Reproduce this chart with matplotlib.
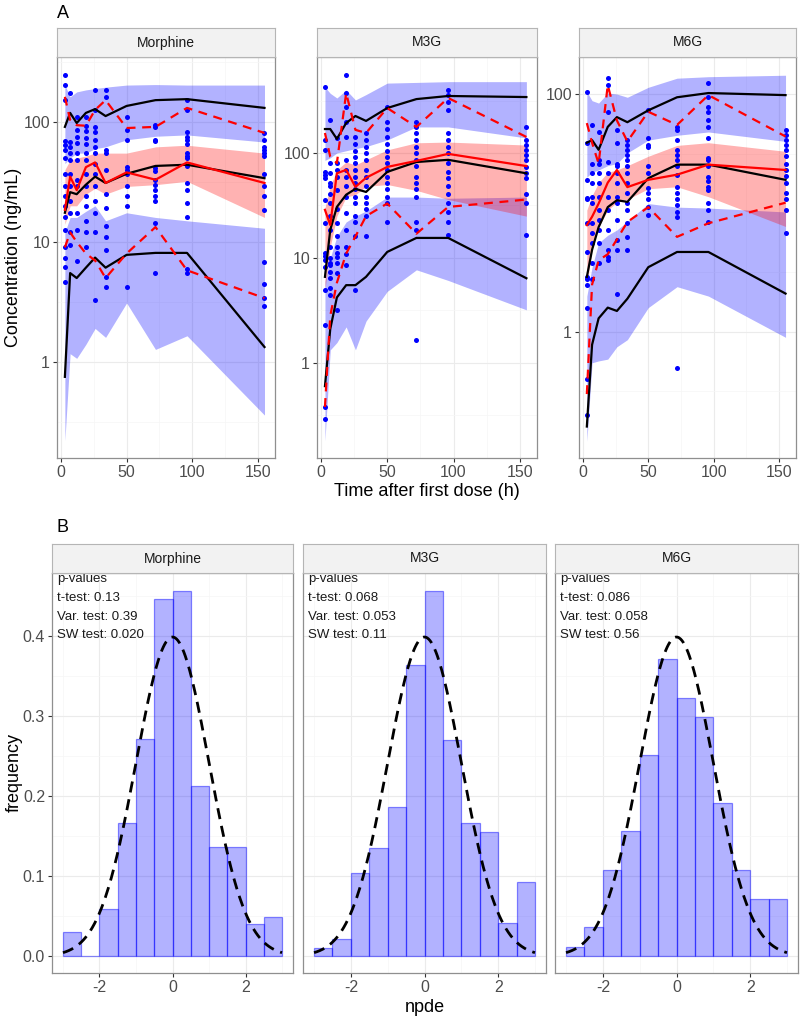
import numpy as np
import matplotlib
matplotlib.use("Agg")
import matplotlib.pyplot as plt

plt.rcParams['font.family'] = ['Liberation Sans', 'DejaVu Sans']
plt.rcParams['axes.unicode_minus'] = False

W, H = 800, 1023

# ---------------- VPC data (panel A) ----------------
times = [3, 7, 12, 19, 26, 34, 50, 72, 96, 155]

# Morphine
mor_hi_top = [203, 162, 178, 185, 190, 195, 203, 205, 203, 203]
mor_hi_bot = [45, 50, 55, 55, 60, 62, 71, 76, 78, 68]
mor_md_top = [40, 48, 50, 52, 55, 55, 55, 62, 64, 55]
mor_md_bot = [14, 20, 20, 25, 28, 25, 29, 30, 32, 16]
mor_lo_top = [12, 16, 16, 18, 20, 15, 17.5, 16, 15, 13]
mor_lo_bot = [0.22, 1.17, 1.07, 1.4, 1.9, 1.6, 3.1, 1.27, 1.65, 0.36]
mor_sim_hi = [91, 119, 98, 119, 128, 112, 136, 152, 155, 131]
mor_sim_md = [17.5, 26, 25, 30, 35, 31, 37, 43, 44, 34]
mor_sim_lo = [0.75, 5.5, 5.0, 6.1, 7.4, 6.1, 7.8, 8.1, 8.1, 1.33]
mor_obs_hi = [162, 104, 94, 93, 126, 152, 89, 91, 131, 81]
mor_obs_md = [18.5, 35, 27, 42, 46, 31, 38, 33, 46, 31]
mor_obs_lo = [9, 12, 10, 8, 7, 5, 8, 13.3, 5.8, 3.4]
mor_obs = [
    [246, 203, 152, 69, 64, 58, 50, 37, 29, 24, 20, 16, 12.6, 9, 7.4, 6.2, 4.6],
    [174, 68, 62, 55, 48, 37, 29, 22, 17.5, 12, 9.5],
    [110, 86, 75, 67, 55, 48, 33, 29, 17.5, 12.6, 7.0],
    [110, 93, 84, 74, 65, 55, 48, 37, 29, 24, 20, 15, 12, 9],
    [185, 126, 91, 83, 71, 62, 55, 45, 37, 29, 22, 17.5, 12, 3.3],
    [185, 162, 58, 55, 40, 25, 19, 13.5, 11, 8.6, 5.1, 4.2],
    [110, 86, 71, 42, 40, 37, 29, 24, 20, 4.2],
    [94, 90, 71, 69, 41, 39, 33, 30, 27, 24, 21.8, 14.3, 5.5],
    [152, 126, 83, 75, 71, 65, 55, 52, 50, 43, 31, 27, 21, 16, 6.0, 5.5],
    [81, 71, 62, 58, 55, 52, 37, 29, 24, 18.5, 6.8, 4.5, 3.4, 2.9],
]

# M3G
m3g_hi_top = [425, 370, 334, 398, 320, 360, 463, 470, 478, 478]
m3g_hi_bot = [85, 90, 100, 105, 110, 115, 133, 177, 177, 139]
m3g_md_top = [30, 48, 69, 82, 77, 86, 107, 125, 127, 119]
m3g_md_bot = [5, 12.8, 25, 38, 40, 48, 50, 44, 36, 25]
m3g_lo_top = [6, 10, 16, 22, 25, 28, 38, 38, 37, 38]
m3g_lo_bot = [0.18, 1.33, 1.56, 2.2, 1.33, 2.5, 4.8, 7.7, 6.1, 3.2]
m3g_sim_hi = [169, 169, 136, 193, 225, 202, 268, 326, 349, 341]
m3g_sim_md = [6.6, 18.5, 30.6, 40, 45.5, 42.5, 66, 82, 86, 64]
m3g_sim_lo = [0.6, 2.1, 4.2, 5.5, 5.5, 6.6, 11.4, 15.5, 15.5, 6.4]
m3g_obs_hi = [155, 92, 80, 372, 166, 155, 268, 177, 334, 142]
m3g_obs_md = [28.7, 20.6, 64, 69, 47.5, 58, 73.6, 84, 98, 75]
m3g_obs_lo = [0.38, 2.8, 5.8, 11, 16, 25, 33, 17, 30.6, 36]
m3g_obs = [
    [425, 133, 107, 66, 62, 58, 36, 21.6, 11.2, 9.6, 8.2, 10.4, 5, 2.3, 0.38, 0.29],
    [206, 80, 64, 52, 48, 41, 33, 25, 18.5, 12.8, 9, 10, 8.6, 7.4, 6.4, 5.2, 4.4],
    [140, 80, 69, 59, 44, 29, 21.6, 16, 12.8, 10.3, 11.2, 9, 7.2, 3.2],
    [553, 372, 274, 198, 142, 86, 69, 59, 48, 38, 27, 18.5, 12.8, 11, 8.6],
    [142, 122, 105, 91, 80, 69, 59, 52, 45, 38, 33, 25, 22, 16, 5],
    [155, 133, 114, 100, 86, 69, 59, 48, 38, 33, 29, 25, 16],
    [274, 198, 170, 142, 122, 105, 91, 80, 69, 59, 52, 45, 38, 33, 22],
    [198, 177, 155, 133, 114, 100, 86, 75, 59, 52, 45, 38, 22, 18.5, 1.66],
    [398, 356, 306, 257, 155, 133, 114, 100, 81, 66, 58, 48, 41, 33, 27.5, 22, 16.5],
    [177, 133, 119, 107, 96, 86, 74, 64, 58, 41, 33, 16.5],
]

# M6G
m6g_hi_top = [104.5, 88, 84, 102, 100, 94, 114, 136, 140, 144]
m6g_hi_bot = [20, 22, 23, 25, 26, 32, 41, 45, 48, 40]
m6g_md_top = [10.6, 14, 18, 22, 23, 25, 30, 37, 39, 33]
m6g_md_bot = [2.5, 5, 7.6, 10.6, 12.3, 13, 16, 16.6, 13.7, 7.7]
m6g_lo_top = [2, 3.5, 5.6, 6.5, 7.2, 8.5, 12, 11.2, 11, 10.2]
m6g_lo_bot = [0.12, 0.55, 0.57, 0.59, 0.75, 0.86, 1.6, 2.4, 2.0, 0.9]
m6g_sim_hi = [39, 41, 34, 53, 64, 58, 73, 94, 102, 98]
m6g_sim_md = [2.9, 4.9, 7.6, 11.2, 12.8, 12.4, 19.6, 25.5, 25.5, 19]
m6g_sim_lo = [0.16, 0.78, 1.3, 1.6, 1.5, 1.9, 3.5, 4.7, 4.7, 2.1]
m6g_obs_hi = [57, 39, 26, 119, 60, 40, 71, 55, 98, 44]
m6g_obs_md = [7.9, 9.3, 12, 18, 23, 16.5, 19, 21, 25.5, 23]
m6g_obs_lo = [0.3, 2.5, 4, 4.5, 6, 8.4, 11.2, 6.3, 8.2, 12.2]
m6g_obs = [
    [104, 39, 19, 13.4, 13, 8.2, 4.7, 2.9, 2.8, 2.5, 1.6, 0.4, 0.2],
    [55, 26, 21.6, 17.8, 13.7, 12.1, 8.2, 6.8, 5.6, 3.8, 2.8],
    [48, 28, 26, 21.6, 17.8, 13.7, 10.6, 8.7, 7.2, 5.6, 3.8],
    [136, 119, 71, 27, 21.6, 13.7, 10.6, 7.2, 4.9, 4, 4.3],
    [50, 39, 26, 25, 21.6, 17.8, 13.7, 12.1, 8.7, 5.9, 4.9, 2.1],
    [41, 37, 34, 31, 28, 25, 21.6, 17.8, 14.7, 12.1, 10.6, 8.2, 6.3, 4.9],
    [73, 43, 37, 36, 25, 21.6, 16.2, 14.7, 13, 11.2, 9.6],
    [53, 50, 41, 34, 31, 28, 25, 21, 16.6, 14.7, 13, 11.6, 10.2, 9.3, 0.5],
    [124, 94, 78, 71, 60, 53, 43, 29, 28, 25, 20, 18.7, 16.6, 15.6, 12.1, 10.6, 8.4],
    [50, 45, 41, 37, 34, 30, 26, 23, 20.5, 17.8, 14.7, 13, 10.6, 6.8],
]

# ---------------- npde histograms (panel B) ----------------
npde_edges = [-3, -2.5, -2, -1.5, -1, -0.5, 0, 0.5, 1, 1.5, 2, 2.5, 3]
mor_freq = [0.030, 0.0, 0.059, 0.166, 0.272, 0.447, 0.456, 0.213, 0.136, 0.136, 0.040, 0.049]
m3g_freq = [0.010, 0.021, 0.104, 0.135, 0.187, 0.364, 0.456, 0.270, 0.166, 0.155, 0.041, 0.093]
m6g_freq = [0.012, 0.037, 0.108, 0.156, 0.251, 0.371, 0.323, 0.299, 0.191, 0.108, 0.072, 0.072]
mor_pvals = ["p-values", "t-test: 0.13", "Var. test: 0.39", "SW test: 0.020"]
m3g_pvals = ["p-values", "t-test: 0.068", "Var. test: 0.053", "SW test: 0.11"]
m6g_pvals = ["p-values", "t-test: 0.086", "Var. test: 0.058", "SW test: 0.56"]

analytes = ["Morphine", "M3G", "M6G"]

BORDER = '#8f8f8f'
STRIP_FILL = '#f2f2f2'
GRID = '#ebebeb'
GRID_MINOR = '#f6f6f6'
TICK_COL = '#4d4d4d'


def px_axes(fig, l, t, r, b):
    return fig.add_axes([l / W, 1 - b / H, (r - l) / W, (b - t) / H])


def strip(fig, l, t, r, b, label):
    s = px_axes(fig, l, t, r, b)
    s.set_facecolor(STRIP_FILL)
    s.set_xticks([])
    s.set_yticks([])
    for sp in s.spines.values():
        sp.set_color('#b5b5b5')
        sp.set_linewidth(0.8)
    s.text(0.5, 0.5, label, ha='center', va='center', fontsize=10, color='#1a1a1a',
           transform=s.transAxes)


def style(ax):
    for sp in ax.spines.values():
        sp.set_color(BORDER)
        sp.set_linewidth(0.9)
    ax.tick_params(which='major', length=3, width=0.8, color='#333333',
                   labelsize=11.5, labelcolor=TICK_COL, pad=2)
    ax.tick_params(which='minor', length=0)
    ax.grid(True, which='major', color=GRID, lw=0.8, zorder=0)
    ax.grid(True, which='minor', color=GRID_MINOR, lw=0.5, zorder=0)
    ax.set_axisbelow(True)


fig = plt.figure(figsize=(W / 100, H / 100), dpi=100)

# ---------------- Panel A ----------------
vpc_sets = [
    (mor_hi_top, mor_hi_bot, mor_md_top, mor_md_bot, mor_lo_top, mor_lo_bot,
     mor_sim_hi, mor_sim_md, mor_sim_lo, mor_obs_hi, mor_obs_md, mor_obs_lo, mor_obs),
    (m3g_hi_top, m3g_hi_bot, m3g_md_top, m3g_md_bot, m3g_lo_top, m3g_lo_bot,
     m3g_sim_hi, m3g_sim_md, m3g_sim_lo, m3g_obs_hi, m3g_obs_md, m3g_obs_lo, m3g_obs),
    (m6g_hi_top, m6g_hi_bot, m6g_md_top, m6g_md_bot, m6g_lo_top, m6g_lo_bot,
     m6g_sim_hi, m6g_sim_md, m6g_sim_lo, m6g_obs_hi, m6g_obs_md, m6g_obs_lo, m6g_obs),
]
a_x = [(57, 275), (317, 537), (579, 796)]
a_ylim = [(0.158, 348), (0.124, 821), (0.087, 205)]
a_yticks = [[1, 10, 100], [1, 10, 100], [1, 100]]

for i, name in enumerate(analytes):
    l, r = a_x[i]
    ax = px_axes(fig, l, 57, r, 458)
    strip(fig, l, 28, r, 57, name)
    (hi_t, hi_b, md_t, md_b, lo_t, lo_b, s_hi, s_md, s_lo,
     o_hi, o_md, o_lo, obs) = vpc_sets[i]

    ax.fill_between(times, hi_b, hi_t, color='#0000ff', alpha=0.3, lw=0, zorder=1)
    ax.fill_between(times, lo_b, lo_t, color='#0000ff', alpha=0.3, lw=0, zorder=1)
    ax.fill_between(times, md_b, md_t, color='#ff0000', alpha=0.3, lw=0, zorder=1)

    for t, vals in zip(times, obs):
        ax.scatter([t] * len(vals), vals, s=13, color='#0000ff', lw=0, zorder=2)

    for line in (s_hi, s_md, s_lo):
        ax.plot(times, line, color='black', lw=1.6, zorder=3)
    ax.plot(times, o_md, color='#ff0000', lw=1.6, zorder=4)
    for line in (o_hi, o_lo):
        ax.plot(times, line, color='#ff0000', lw=1.6, dashes=(4, 3), zorder=4)

    ax.set_yscale('log')
    ax.set_xticks([0, 50, 100, 150])
    ax.set_xticks([25, 75, 125], minor=True)
    ax.set_yticks(a_yticks[i])
    ax.set_yticklabels([str(v) for v in a_yticks[i]])
    ax.set_yticks([0.316, 3.16, 31.6, 316], minor=True)
    ax.yaxis.set_minor_formatter(plt.NullFormatter())
    ax.set_xlim(-3, 163)
    ax.set_ylim(*a_ylim[i])
    style(ax)

fig.text(57 / W, 1 - 13 / H, "A", fontsize=13, ha='left', va='center')
fig.text(427 / W, 1 - 491 / H, "Time after first dose (h)", fontsize=13,
         ha='center', va='center')
fig.text(14 / W, 1 - 257 / H, "Concentration (ng/mL)", fontsize=13,
         ha='center', va='center', rotation=90)

# ---------------- Panel B ----------------
freq_sets = [mor_freq, m3g_freq, m6g_freq]
pval_sets = [mor_pvals, m3g_pvals, m6g_pvals]
b_x = [(52, 293), (303, 546), (555, 798)]
xs = np.linspace(-3, 3, 300)
dens = np.exp(-xs ** 2 / 2) / np.sqrt(2 * np.pi)

for i, name in enumerate(analytes):
    l, r = b_x[i]
    ax = px_axes(fig, l, 573, r, 973)
    strip(fig, l, 544, r, 573, name)
    ax.bar(npde_edges[:-1], freq_sets[i], width=0.5, align='edge',
           color=(0, 0, 1, 0.3), edgecolor=(0, 0, 1, 0.45), lw=0.9, zorder=2)
    ax.plot(xs, dens, color='black', lw=2, dashes=(4, 2.5), zorder=3)
    for k, txt in enumerate(pval_sets[i]):
        ax.text(-3.17, 0.471 - 0.0233 * k, txt, fontsize=9.5, ha='left',
                va='center', color='#1a1a1a', zorder=4)
    ax.set_xticks([-2, 0, 2])
    ax.set_xticks([-3, -1, 1, 3], minor=True)
    ax.set_yticks([0.0, 0.1, 0.2, 0.3, 0.4])
    ax.set_yticks([0.05, 0.15, 0.25, 0.35, 0.45], minor=True)
    ax.set_xlim(-3.3, 3.3)
    ax.set_ylim(-0.021, 0.479)
    if i == 0:
        ax.set_yticklabels(['0.0', '0.1', '0.2', '0.3', '0.4'])
    else:
        ax.set_yticklabels([])
    style(ax)
    if i != 0:
        ax.tick_params(axis='y', which='major', length=0)

fig.text(57 / W, 1 - 527 / H, "B", fontsize=13, ha='left', va='center')
fig.text(425 / W, 1 - 1008 / H, "npde", fontsize=13, ha='center', va='center')
fig.text(14 / W, 1 - 773 / H, "frequency", fontsize=13, ha='center', va='center',
         rotation=90)

fig.savefig("out.png", dpi=100)
